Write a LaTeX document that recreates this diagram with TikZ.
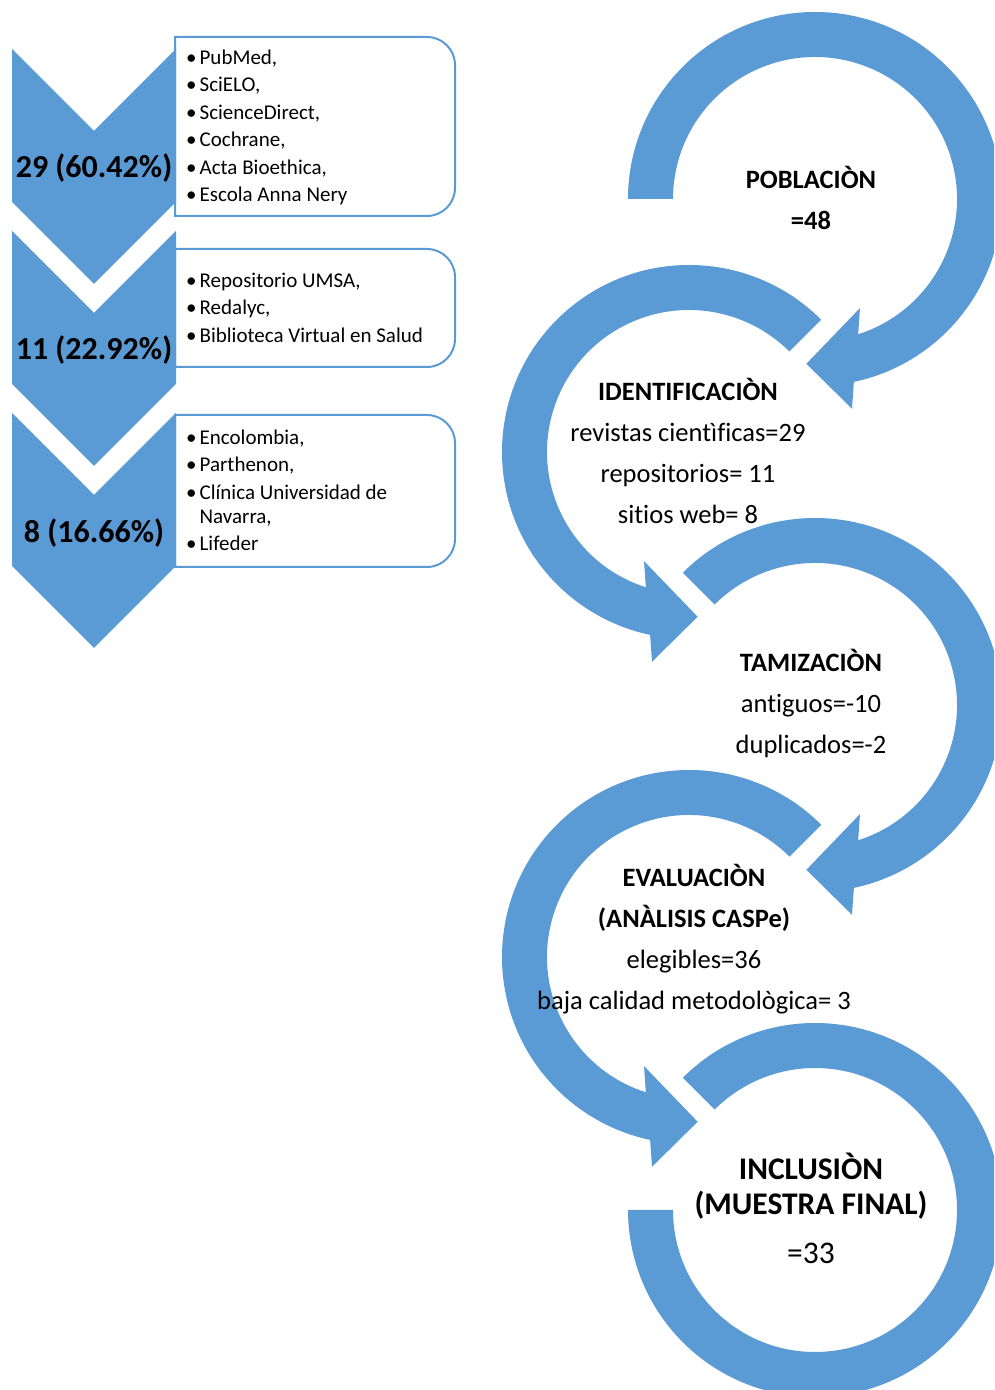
\documentclass[tikz,border=0pt]{standalone}
\usepackage{fontspec}
\setmainfont{Carlito}[Ligatures=CommonOff]
\usetikzlibrary{positioning}

\definecolor{ringblue}{RGB}{91,155,213}

\tikzset{
	chevron/.style={fill=ringblue, draw=none},
	listbox/.style={draw=ringblue, line width=2pt, fill=white},
	ring/.style={fill=ringblue, draw=none},
	pct/.style={font=\fontsize{32}{38}\selectfont\bfseries, inner sep=0pt},
	listtext/.style={font=\fontsize{21}{27.5}\selectfont, anchor=west, inner sep=0pt},
	steptext/.style={font=\fontsize{26.5}{41}\selectfont, align=center, inner sep=0pt},
}

\begin{document}
\begin{tikzpicture}[x=1pt, y=1pt]

	\clip (0,0) rectangle (994,1390);

	\coordinate (c_pob) at (815,1191);
	\coordinate (c_ide) at (689,938);
	\coordinate (c_tam) at (815,685);
	\coordinate (c_eva) at (689,433);
	\coordinate (c_inc) at (815,180);

	% Source boxes
	\draw[listbox]	(175,1353) -- (427,1353) arc[start angle=90, end angle=0, radius=28] --
					(455,1202) arc[start angle=0, end angle=-90, radius=28] --
					(175,1174) -- cycle;
	\draw[listbox]	(175,1141) -- (427,1141) arc[start angle=90, end angle=0, radius=28] --
					(455,1051) arc[start angle=0, end angle=-90, radius=28] --
					(175,1023) -- cycle;
	\draw[listbox]	(175,975) -- (427,975) arc[start angle=90, end angle=0, radius=28] --
					(455,851) arc[start angle=0, end angle=-90, radius=28] --
					(175,823) -- cycle;

	% Chevrons
	\fill[chevron]	(12,1341) -- (94,1259) -- (176,1341) -- (176,1188) -- (94,1106) -- (12,1188) -- cycle;
	\fill[chevron]	(12,1159) -- (94,1077) -- (176,1159) -- (176,1006) -- (94,924) -- (12,1006) -- cycle;
	\fill[chevron]	(12,977) -- (94,895) -- (176,977) -- (176,824) -- (94,742) -- (12,824) -- cycle;

	\node[pct] (pct_rev) at (94,1222) {29 (60.42\%)};
	\node[pct] (pct_rep) at (94,1040) {11 (22.92\%)};
	\node[pct] (pct_web) at (94,857) {8 (16.66\%)};

	\node[listtext] (db_rev) at (186,1262.5) {\begin{tabular}{@{}l@{\hspace{3pt}}l@{}}
		\textbullet & PubMed,\\
		\textbullet & SciELO,\\
		\textbullet & ScienceDirect,\\
		\textbullet & Cochrane,\\
		\textbullet & Acta Bioethica,\\
		\textbullet & Escola Anna Nery
	\end{tabular}};
	\node[listtext] (db_rep) at (186,1080.5) {\begin{tabular}{@{}l@{\hspace{3pt}}l@{}}
		\textbullet & Repositorio UMSA,\\
		\textbullet & Redalyc,\\
		\textbullet & Biblioteca Virtual en Salud
	\end{tabular}};
	\node[listtext] (db_web) at (186,898) {\begin{tabular}{@{}l@{\hspace{3pt}}l@{}}
		\textbullet & Encolombia,\\
		\textbullet & Parthenon,\\
		\textbullet & Clínica Universidad de\\[-3.5pt]
		 & Navarra,\\
		\textbullet & Lifeder
	\end{tabular}};

	% Circular arrows
	\fill[ring, shift={(c_pob)}] (180:187) arc[start angle=180, end angle=-78, radius=187] --
		(-80:213) -- (-93:165) -- (-67.6:118) --
		(-72.3:142) arc[start angle=-72.3, end angle=180, radius=142] -- cycle;
	\fill[ring, shift={(c_ide)}] (45:187) arc[start angle=45, end angle=258, radius=187] --
		(260:213) -- (273:165) -- (247.6:118) --
		(252.3:142) arc[start angle=252.3, end angle=45, radius=142] -- cycle;
	\fill[ring, shift={(c_tam)}] (135:187) arc[start angle=135, end angle=-78, radius=187] --
		(-80:213) -- (-93:165) -- (-67.6:118) --
		(-72.3:142) arc[start angle=-72.3, end angle=135, radius=142] -- cycle;
	\fill[ring, shift={(c_eva)}] (45:187) arc[start angle=45, end angle=258, radius=187] --
		(260:213) -- (273:165) -- (247.6:118) --
		(252.3:142) arc[start angle=252.3, end angle=45, radius=142] -- cycle;
	\fill[ring, shift={(c_inc)}] (135:187) arc[start angle=135, end angle=-180, radius=187] --
		(180:142) arc[start angle=-180, end angle=135, radius=142] -- cycle;

	% Step texts
	\node[steptext] (t_pob) at (811,1192) {\textbf{POBLACIÒN}\\ \textbf{=48}};
	\node[steptext] (t_ide) at (688,939) {\textbf{IDENTIFICACIÒN}\\ revistas cientìficas=29\\
		repositorios= 11\\ sitios web= 8};
	\node[steptext] (t_tam) at (811,686.5) {\textbf{TAMIZACIÒN}\\ antiguos=-10\\ duplicados=-2};
	\node[steptext] (t_eva) at (694,451) {\textbf{EVALUACIÒN}\\ \textbf{(ANÀLISIS CASPe)}\\
		elegibles=36\\ baja calidad metodològica= 3};
	\node[steptext, font=\fontsize{31.5}{35}\selectfont] (t_inc) at (811,182)
		{\textbf{INCLUSIÒN}\\ \textbf{(MUESTRA FINAL)}\\[14pt] =33};

\end{tikzpicture}
\end{document}
